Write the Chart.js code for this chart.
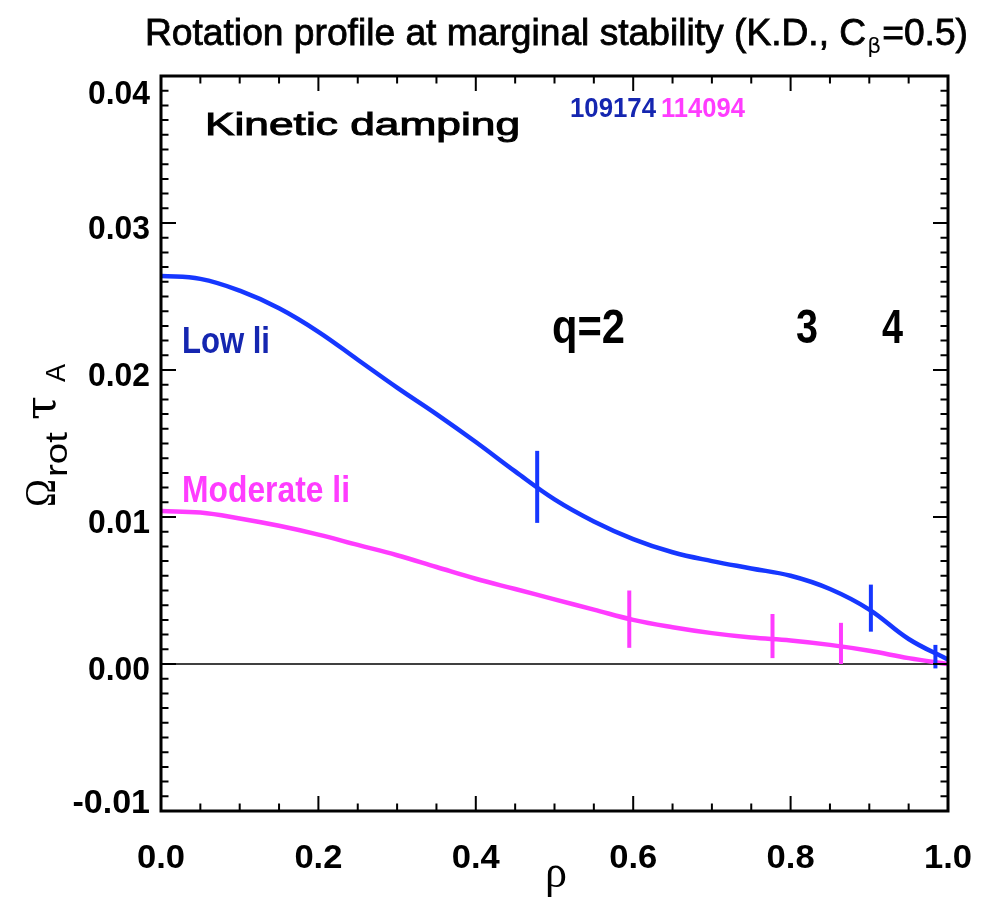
<!DOCTYPE html>
<html>
<head>
<meta charset="utf-8">
<script src="https://cdn.jsdelivr.net/npm/chart.js@4/dist/chart.umd.min.js"></script>
<style>
  body { margin: 0; background: #fff; }
  canvas { display: block; }
</style>
</head>
<body>
<canvas id="chart" width="988" height="903"></canvas>
<script>
// rho grid the profiles were read on
const rho = [0, 0.05, 0.1, 0.15, 0.2, 0.25, 0.3, 0.35, 0.4, 0.45, 0.5, 0.55, 0.6, 0.65, 0.7, 0.75, 0.8, 0.85, 0.9, 0.95, 1.0];

// Low li (109174) rotation profile
const blueVal = [0.0264, 0.0262, 0.0254, 0.0242, 0.0226, 0.0207, 0.0188, 0.017, 0.0151, 0.0131, 0.0112, 0.0097, 0.0085, 0.0076, 0.007, 0.0065, 0.006, 0.0051, 0.0037, 0.0017, 0.0003];

// Moderate li (114094) rotation profile
const magVal = [0.0104, 0.0103, 0.0099, 0.0094, 0.0088, 0.0081, 0.0074, 0.0066, 0.0058, 0.0051, 0.0044, 0.0037, 0.003, 0.0025, 0.0021, 0.0018, 0.0016, 0.0013, 0.0009, 0.0004, 0.0];

// q-surface error bars
const blueErrRho = [0.478, 0.902, 0.984];
const blueErrLo = [0.0096, 0.0022, -0.0003];
const blueErrHi = [0.0145, 0.0054, 0.0013];
const magErrRho = [0.595, 0.777, 0.864];
const magErrLo = [0.0011, 0.0004, 0.0];
const magErrHi = [0.005, 0.0034, 0.0028];

// axis ticks
const xTickValues = [0, 0.2, 0.4, 0.6, 0.8, 1.0];
const xTickLabels = ["0.0", "0.2", "0.4", "0.6", "0.8", "1.0"];
const yTickValues = [-0.01, 0, 0.01, 0.02, 0.03, 0.04];
const yTickLabels = ["-0.01", "0.00", "0.01", "0.02", "0.03", "0.04"];

const BLUE = "#1637ff";
const MAGENTA = "#ff3cff";
const DARKBLUE = "#1526b0";

function toPoints(xs, ys) {
  return xs.map((x, i) => ({ x: x, y: ys[i] }));
}

function errBars(xs, lo, hi, color) {
  return xs.map((x, i) => ({
    data: [{ x: x, y: lo[i] }, { x: x, y: hi[i] }],
    borderColor: color,
    borderWidth: 4,
    pointRadius: 0,
    tension: 0,
    order: 0,
  }));
}

// draw text, optionally squeezed to a given width, optionally thickened
function txt(ctx, s, x, y, font, color, align, width, stroke) {
  ctx.save();
  ctx.font = font;
  ctx.fillStyle = color;
  ctx.textBaseline = "alphabetic";
  const w = ctx.measureText(s).width;
  const sx = width ? width / w : 1;
  let x0 = x;
  if (align === "center") x0 = x - (w * sx) / 2;
  else if (align === "right") x0 = x - w * sx;
  ctx.translate(x0, y);
  ctx.scale(sx, 1);
  ctx.fillText(s, 0, 0);
  if (stroke) {
    ctx.strokeStyle = color;
    ctx.lineWidth = stroke;
    ctx.strokeText(s, 0, 0);
  }
  ctx.restore();
  return w * sx;
}

const SANS = "'Liberation Sans', Arial, sans-serif";
const TICKFONT = "bold 34px " + SANS;

const framePlugin = {
  id: "frame",
  beforeDatasetsDraw(chart) {
    const { ctx, chartArea: a, scales } = chart;
    const y0 = scales.y.getPixelForValue(0);
    ctx.save();
    ctx.strokeStyle = "#000";
    ctx.lineWidth = 1.5;
    ctx.beginPath();
    ctx.moveTo(a.left, y0);
    ctx.lineTo(a.right, y0);
    ctx.stroke();
    ctx.restore();
  },
  afterDraw(chart) {
    const { ctx, chartArea: a, scales } = chart;
    const xs = scales.x, ys = scales.y;
    ctx.save();
    ctx.strokeStyle = "#000";
    ctx.lineWidth = 2;
    // minor and major ticks, on all four sides
    for (let i = 0; i <= 20; i++) {
      const px = xs.getPixelForValue(i / 20);
      const len = i % 4 === 0 ? 15 : 7.5;
      ctx.beginPath();
      ctx.moveTo(px, a.bottom);
      ctx.lineTo(px, a.bottom - len);
      ctx.moveTo(px, a.top);
      ctx.lineTo(px, a.top + len);
      ctx.stroke();
    }
    for (let i = -10; i <= 40; i++) {
      const py = ys.getPixelForValue(i / 1000);
      const len = i % 10 === 0 ? 15 : 7.5;
      ctx.beginPath();
      ctx.moveTo(a.left, py);
      ctx.lineTo(a.left + len, py);
      ctx.moveTo(a.right, py);
      ctx.lineTo(a.right - len, py);
      ctx.stroke();
    }
    ctx.lineWidth = 3;
    ctx.strokeRect(a.left, a.top, a.right - a.left, a.bottom - a.top);
    ctx.restore();

    // tick labels
    xTickValues.forEach((v, i) => {
      txt(ctx, xTickLabels[i], xs.getPixelForValue(v), 868, TICKFONT, "#000", "center", xTickLabels[i].length * 16);
    });
    yTickValues.forEach((v, i) => {
      let py = ys.getPixelForValue(v) + 4;
      py = Math.max(py, a.top + 16);
      py = Math.min(py, a.bottom - 10);
      const s = yTickLabels[i];
      txt(ctx, s, 150, py + 12, TICKFONT, "#000", "right", s.length * 15.5);
    });

    // title, squeezed as one line
    const tf = "36px " + SANS;
    const head = "Rotation profile at marginal stability (K.D., C";
    const tail = "=0.5)";
    ctx.save();
    ctx.font = tf;
    const wHead = ctx.measureText(head).width;
    const wTail = ctx.measureText(tail).width;
    ctx.restore();
    const k = (823 - 16) / (wHead + wTail);
    let tx = 145;
    tx += txt(ctx, head, tx, 45, tf, "#000", "left", wHead * k, 0.8);
    tx += txt(ctx, "\u03b2", tx + 1, 53, "22px 'DejaVu Sans', sans-serif", "#000", "left", 14) + 2;
    txt(ctx, tail, tx, 45, tf, "#000", "left", wTail * k, 0.8);

    // annotations
    txt(ctx, "Kinetic damping", 205, 135, "31px " + SANS, "#000", "left", 315, 1);
    txt(ctx, "109174", 570, 117, "bold 28px " + SANS, DARKBLUE, "left", 86);
    txt(ctx, "114094", 661, 117, "bold 28px " + SANS, MAGENTA, "left", 84);
    txt(ctx, "Low li", 182, 353, "bold 36px " + SANS, DARKBLUE, "left", 88);
    txt(ctx, "Moderate li", 182, 502, "bold 36px " + SANS, MAGENTA, "left", 168);
    txt(ctx, "q=2", 552, 343, "bold 48px " + SANS, "#000", "left", 73);
    txt(ctx, "3", 796, 343, "bold 48px " + SANS, "#000", "left", 22);
    txt(ctx, "4", 882, 343, "bold 48px " + SANS, "#000", "left", 21);

    // axis titles
    txt(ctx, "\u03c1", 556, 887, "46px 'Liberation Serif', serif", "#000", "center", 22);
    ctx.save();
    ctx.translate(55, 507);
    ctx.rotate(-Math.PI / 2);
    txt(ctx, "\u03a9", 0, 0, "44px 'Liberation Serif', serif", "#000", "left", 28);
    txt(ctx, "rot", 30, 12, "32px " + SANS, "#000", "left", 45);
    txt(ctx, "\u03c4", 87, 0, "42px 'DejaVu Serif', serif", "#000", "left", 24);
    txt(ctx, "A", 125, 10, "28px " + SANS, "#000", "left", 18);
    ctx.restore();
  },
};

new Chart(document.getElementById("chart"), {
  type: "line",
  data: {
    datasets: [
      {
        data: toPoints(rho, blueVal),
        borderColor: BLUE,
        borderWidth: 4.5,
        pointRadius: 0,
        tension: 0.4,
        order: 1,
      },
      {
        data: toPoints(rho, magVal),
        borderColor: MAGENTA,
        borderWidth: 4.5,
        pointRadius: 0,
        tension: 0.4,
        order: 2,
      },
      ...errBars(blueErrRho, blueErrLo, blueErrHi, BLUE),
      ...errBars(magErrRho, magErrLo, magErrHi, MAGENTA),
    ],
  },
  options: {
    responsive: false,
    animation: false,
    layout: { padding: { left: 161, right: 40, top: 76, bottom: 92 } },
    plugins: { legend: { display: false }, tooltip: { enabled: false } },
    scales: {
      x: { type: "linear", min: 0, max: 1, display: false },
      y: { type: "linear", min: -0.01, max: 0.04, display: false },
    },
  },
  plugins: [framePlugin],
});
</script>
</body>
</html>
